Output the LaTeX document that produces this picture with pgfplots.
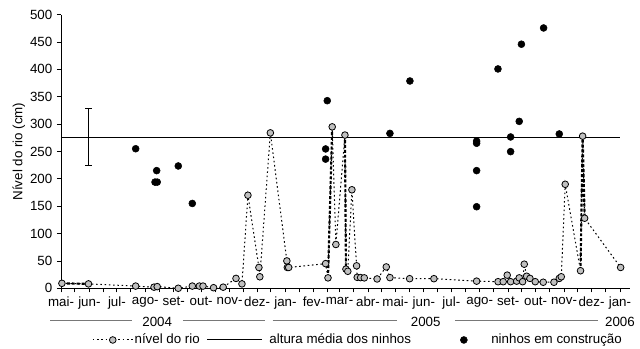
\documentclass[border=0pt]{standalone}
\usepackage{pgfplots}
\pgfplotsset{compat=1.18}
\usepackage{fontspec}
\setmainfont{Liberation Sans}
\definecolor{ptgray}{RGB}{192,192,192}
\definecolor{yrgray}{RGB}{120,120,120}

\pgfplotsset{
  rioleg/.style={legend image code/.code={\draw[mark repeat=2, mark phase=2, ##1] plot coordinates {(0pt,0pt) (15pt,0pt) (30pt,0pt)};}},
  altleg/.style={legend image code/.code={\draw[##1] (0pt,0pt) -- (41pt,0pt);}},
  ninleg/.style={legend image code/.code={\draw[##1] plot coordinates {(0pt,0pt)};}},
}

\pgfplotstableread{
day val
1 9
30 8
81.5 4
101.5 2
105 3
128 0
143.3 4
151 4
155 4
166.5 1
177 2
191 18
197.5 8
204 170
216 38
217 21
228.5 284
246.5 50
247 38
248.5 38
288.8 45
291.4 19
296 295
300 80
309.9 280
311 35
313 31
317.5 180
322.6 41
323.3 20
327 19.5
331 19
345 17
355 39
359 19.5
380.5 17.5
407 17.5
453.6 13
477 12
482.6 12
487 24
490.7 12
497.3 13
500.1 19
503.8 12
505.6 44
508.2 22
511.8 18
517.6 12
526.3 11
538 11
543.8 18
546 21
550.3 190
567 32
569.3 278
571.5 128
610.8 38
}\rio

\pgfplotstableread{
day val
81.5 255
104.4 215
102.6 194
105 194
128 223.5
143.3 155
288.8 236
288.8 254.6
290.6 342.8
359 283
380.8 378.8
453.6 269
453.6 265
453.6 215
453.6 149
476.9 400.8
490.7 276.5
490.7 249.7
500.1 305
502.5 446
526.7 475.7
543.8 282
}\ninhos

\begin{document}
\fontsize{10}{12}\selectfont
\begin{tikzpicture}[font=\fontsize{10}{12}\selectfont]
\useasboundingbox (-45.75pt,-45.5pt) rectangle (434.25pt,216.2pt);
\begin{axis}[
  anchor=origin, at={(0,0)},
  scale only axis, width=426.75pt, height=205.2pt,
  xmin=0, xmax=621, ymin=0, ymax=500,
  clip=false,
  axis lines=left, axis line style={-, line width=0.6pt},
  tick align=outside, major tick length=3pt, minor tick length=3pt,
  tick style={black, line width=0.6pt},
  xtick={0,31,61,92,123,153,184,214,245,276,304,335,365,396,426,457,488,518,549,579,610},
  xticklabels={mai-,jun-,jul-,ago-,set-,out-,nov-,dez-,jan-,fev-,mar-,abr-,mai-,jun-,jul-,ago-,set-,out-,nov-,dez-,jan-},
  minor xtick={15,46,76,107,138,168,199,229,260,291,319,350,380,411,441,472,503,533,564,594},
  ytick={0,50,...,500},
  yticklabel style={/pgf/number format/assume math mode=true},
  ylabel={Nível do rio (cm)},
  every axis y label/.style={at={(axis description cs:-0.074,0.5)}, anchor=center, rotate=90},
  legend columns=3,
  legend cell align=left,
  legend style={at={(axis description cs:0.0545,-0.189)}, anchor=west, draw=none, fill=none,
    inner sep=0pt, nodes={inner sep=0pt},
    /tikz/column 1/.style={column sep=1pt},
    /tikz/column 2/.style={column sep=5.25pt},
    /tikz/column 3/.style={column sep=5.25pt},
    /tikz/column 4/.style={column sep=37pt},
    /tikz/column 5/.style={column sep=18pt}},
]
% heavy dotted segments of the river line
\addplot[forget plot, black, line width=1.6pt, dash pattern=on 2.2pt off 1.5pt] coordinates {(1,9) (30,8)};
\addplot[forget plot, black, line width=1.6pt, dash pattern=on 2.2pt off 1.5pt] coordinates {(291.4,19) (296,295)};
\addplot[forget plot, black, line width=1.6pt, dash pattern=on 2.2pt off 1.5pt] coordinates {(309.9,280) (311,35)};
\addplot[forget plot, black, line width=1.6pt, dash pattern=on 2.2pt off 1.5pt] coordinates {(567,32) (569.3,278) (571.5,128)};
% range (error bar) of nest heights around the mean
\addplot[forget plot, black, line width=0.7pt, mark=-, mark size=2.3pt, mark options={solid, line width=0.7pt}]
  coordinates {(30,224) (30,328)};

\addplot[black, line width=0.75pt, dash pattern=on 1.2pt off 2pt,
  mark=*, mark size=2.5pt, mark options={solid, fill=ptgray, draw=black, line width=0.6pt},
  rioleg]
  table[x=day, y=val] {\rio};
\addlegendentry{nível do rio}

\addplot[black, line width=0.75pt, altleg]
  coordinates {(0,276) (610,276)};
\addlegendentry{altura média dos ninhos}

\addplot[only marks, mark=*, mark size=2.6pt, mark options={fill=black, draw=black}, ninleg]
  table[x=day, y=val] {\ninhos};
\addlegendentry{ninhos em construção}

% year grouping labels
\draw[yrgray, line width=0.5pt] ([yshift=-24pt]axis cs:-12,0) -- ([yshift=-24pt]axis cs:77.5,0);
\draw[yrgray, line width=0.5pt] ([yshift=-24pt]axis cs:133,0) -- ([yshift=-24pt]axis cs:222.6,0);
\node at ([yshift=-25.3pt]axis cs:105,0) {2004};
\draw[yrgray, line width=0.5pt] ([yshift=-24pt]axis cs:231,0) -- ([yshift=-24pt]axis cs:366.7,0);
\draw[yrgray, line width=0.5pt] ([yshift=-24pt]axis cs:430,0) -- ([yshift=-24pt]axis cs:586,0);
\node at ([yshift=-25.3pt]axis cs:398,0) {2005};
\node at ([yshift=-25.3pt]axis cs:610,0) {2006};
\end{axis}
\end{tikzpicture}
\end{document}
